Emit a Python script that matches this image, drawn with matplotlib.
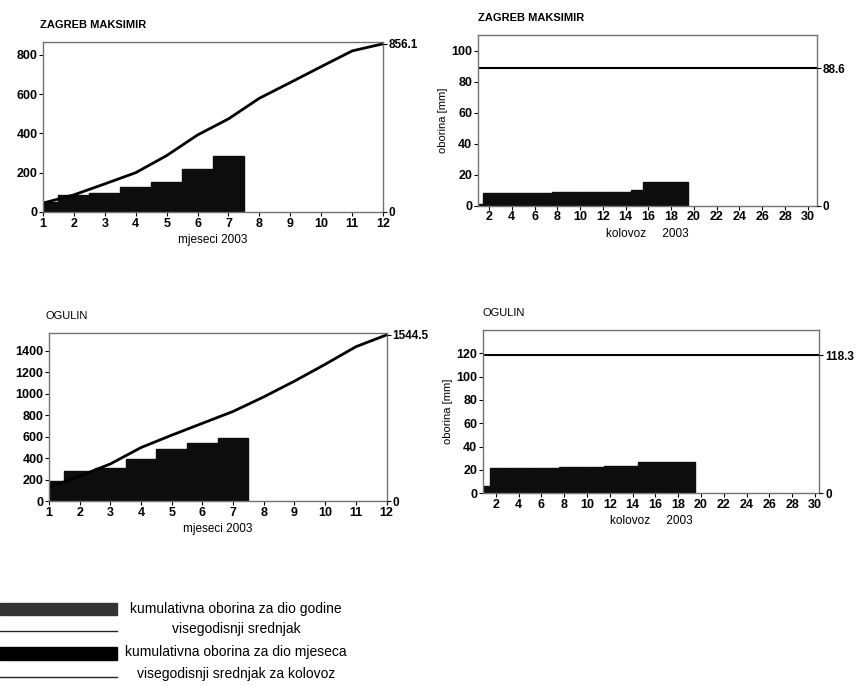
import numpy as np
import matplotlib.pyplot as plt
from matplotlib.patches import Rectangle

plt.rcParams['font.family'] = ['Liberation Sans', 'DejaVu Sans']

# mjesecne kumulativne oborine 2003 (stupci) i visegodisnji srednjak (linija)
months = np.arange(1, 13)
bar_months = np.arange(1, 8)
zg_month_bars = [52, 87, 98, 126, 153, 217, 285]
zg_month_mean = [45, 87, 143, 200, 287, 392, 474, 579, 659, 740, 820, 856.1]
og_month_bars = [193, 279, 310, 397, 487, 543, 589]
og_month_mean = [130, 235, 348, 500, 615, 725, 835, 970, 1116, 1272, 1435, 1544.5]

# kolovoz 2003, kumulativna oborina po danima
days = np.arange(1, 20)
zg_day_bars = [1, 8.5, 8.5, 8.5, 8.5, 8.5, 8.5, 9.0, 9.0, 9.0, 9.0, 9.0, 9.0, 9.0,
               10.0, 15.3, 15.3, 15.3, 15.3]
og_day_bars = [6.2, 21.9, 21.9, 21.9, 21.9, 21.9, 21.9, 22.5, 22.5, 22.5, 22.5,
               23.1, 23.1, 23.1, 26.5, 26.5, 26.5, 26.5, 26.5]
zg_aug_mean = 88.6
og_aug_mean = 118.3

fig = plt.figure(figsize=(8.59, 6.86), dpi=100)


def style_axes(ax):
    for s in ax.spines.values():
        s.set_color('0.45')
        s.set_linewidth(1)
    ax.tick_params(length=3, width=0.8, labelsize=9, pad=1)
    for lab in ax.get_xticklabels() + ax.get_yticklabels():
        lab.set_fontweight('bold')


def right_ticks(ax, top, value):
    ax2 = ax.twinx()
    ax2.set_ylim(0, top)
    ax2.set_yticks([0, value])
    ax2.set_yticklabels(['0', f'{value:.1f}'], fontweight='bold')
    ax2.tick_params(length=3, width=0.8, labelsize=8.5, pad=1)
    for s in ax2.spines.values():
        s.set_visible(False)


def year_panel(rect, title, bars, mean, top, yticks, title_bold):
    ax = fig.add_axes(rect)
    ax.bar(bar_months, bars, width=1.0, color='0.05', edgecolor='0.05')
    ax.plot(months, mean, color='black', lw=2)
    ax.set_xlim(1, 12)
    ax.set_ylim(0, top)
    ax.set_xticks(months)
    ax.set_yticks(yticks)
    ax.set_xlabel('mjeseci 2003', fontsize=8.5, labelpad=3)
    ax.set_title(title, loc='left', fontsize=8, pad=10,
                 fontweight='bold' if title_bold else 'normal', x=-0.01)
    style_axes(ax)
    right_ticks(ax, top, mean[-1])
    return ax


def month_panel(rect, title, bars, mean, top, yticks, xlim, title_bold):
    ax = fig.add_axes(rect)
    ax.bar(days, bars, width=1.0, color='0.05', edgecolor='0.05')
    ax.axhline(mean, color='black', lw=1.5)
    ax.set_xlim(*xlim)
    ax.set_ylim(0, top)
    ax.set_xticks(np.arange(2, 31, 2))
    ax.set_yticks(yticks)
    ax.set_xlabel('kolovoz     2003', fontsize=8.5, labelpad=3)
    ax.set_ylabel('oborina [mm]', fontsize=8, labelpad=2)
    ax.set_title(title, loc='left', fontsize=8, pad=10,
                 fontweight='bold' if title_bold else 'normal')
    style_axes(ax)
    right_ticks(ax, top, mean)
    return ax


year_panel([0.050, 0.691, 0.396, 0.248], 'ZAGREB MAKSIMIR', zg_month_bars,
           zg_month_mean, 866, np.arange(0, 801, 200), True)
month_panel([0.556, 0.700, 0.395, 0.249], 'ZAGREB MAKSIMIR', zg_day_bars,
            zg_aug_mean, 110, np.arange(0, 101, 20), (1, 30.8), True)
year_panel([0.057, 0.269, 0.393, 0.246], 'OGULIN', og_month_bars,
           og_month_mean, 1565, np.arange(0, 1401, 200), False)
month_panel([0.562, 0.281, 0.392, 0.238], 'OGULIN', og_day_bars,
            og_aug_mean, 140, np.arange(0, 121, 20), (0.85, 30.4), False)

# legenda ispod grafova
leg = fig.add_axes([0, 0, 1, 100 / 686])
leg.set_xlim(0, 859)
leg.set_ylim(686, 586)
leg.axis('off')
leg.add_patch(Rectangle((0, 603), 117, 12, color='0.2'))
leg.plot([0, 117], [631, 631], color='0.15', lw=1)
leg.add_patch(Rectangle((0, 647), 117, 13, color='black'))
leg.plot([0, 117], [677, 677], color='0.15', lw=1)
leg_texts = ['kumulativna oborina za dio godine', 'visegodisnji srednjak',
             'kumulativna oborina za dio mjeseca', 'visegodisnji srednjak za kolovoz']
for txt, y in zip(leg_texts, [609, 629, 652, 674]):
    leg.text(236, y, txt, ha='center', va='center', fontsize=10)

plt.savefig('out.png', dpi=100)
